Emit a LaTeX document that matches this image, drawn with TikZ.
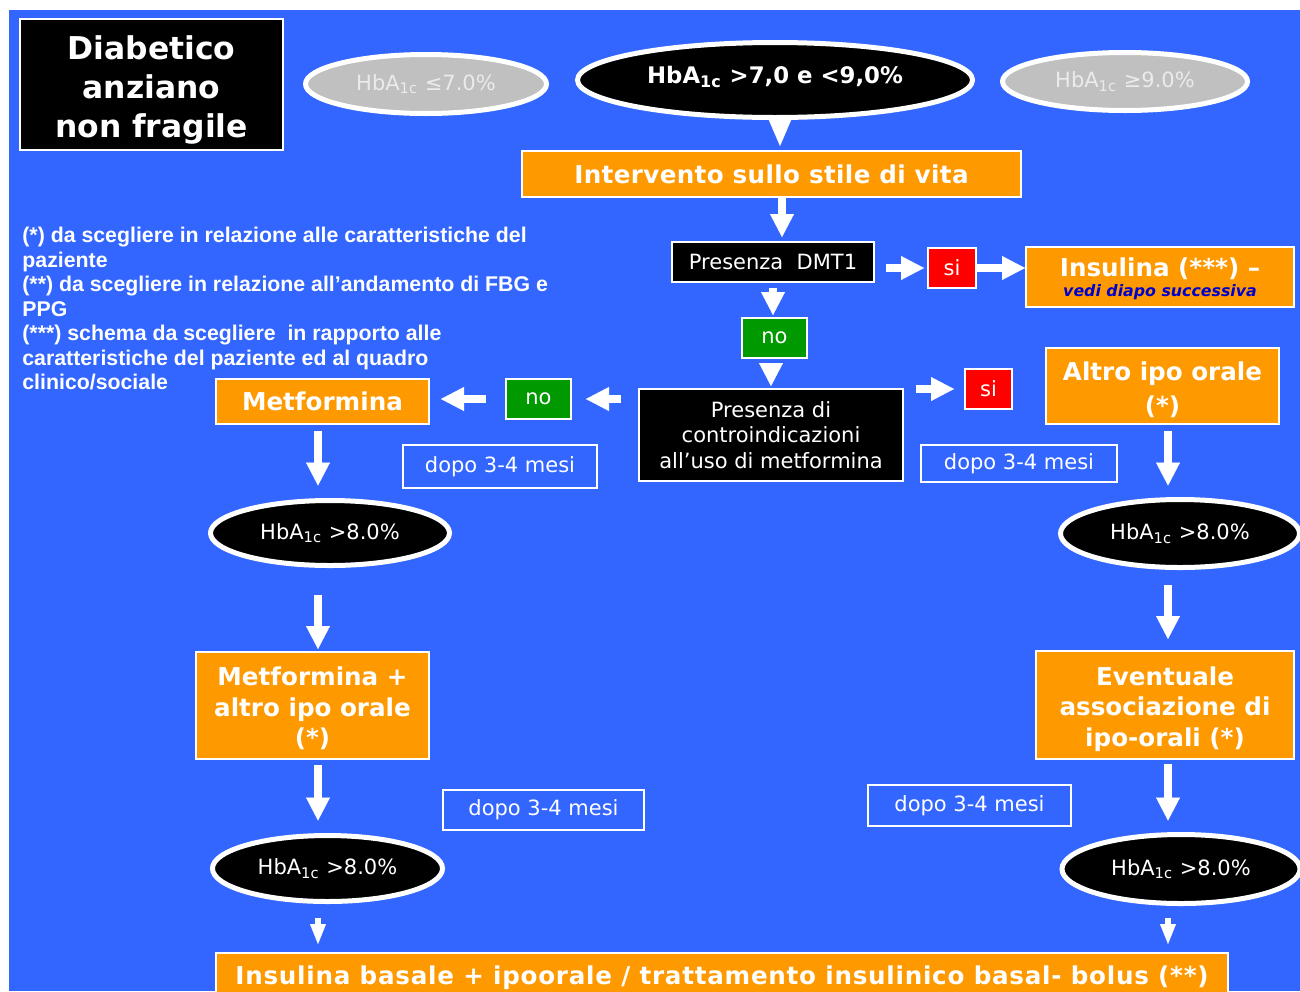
\documentclass[tikz,border=0pt]{standalone}
\usepackage{fontspec}
\setmainfont{DejaVu Sans}
\newfontfamily\notefont{Liberation Sans}
\usetikzlibrary{arrows.meta,shapes.geometric,positioning}
\definecolor{bgblue}{HTML}{3366FF}
\definecolor{boxorange}{HTML}{FF9900}
\definecolor{nogreen}{HTML}{009900}
\definecolor{sired}{HTML}{FF0000}
\definecolor{ellgray}{HTML}{C0C0C0}
\definecolor{txtgray}{HTML}{EBEBEB}
\definecolor{linkblue}{HTML}{0000CC}

\begin{document}
\begin{tikzpicture}[x=0.5pt,y=-0.5pt,
  every node/.style={text=white, inner sep=0pt, align=center},
  box/.style={rectangle, draw=white, line width=1pt},
  actbox/.style={box, fill=boxorange, font=\bfseries\fontsize{12.3pt}{15.25pt}\selectfont},
  askbox/.style={box, fill=black, font=\fontsize{10.5pt}{12.75pt}\selectfont},
  sibox/.style={box, fill=sired, minimum width=24pt, minimum height=20pt, font=\fontsize{10.5pt}{12pt}\selectfont},
  nobox/.style={box, fill=nogreen, minimum width=32.5pt, minimum height=20pt, font=\fontsize{10.5pt}{12pt}\selectfont},
  waitbox/.style={box, fill=bgblue, font=\fontsize{10.5pt}{12pt}\selectfont},
  hbell/.style={ellipse, fill=black, draw=white, line width=2.5pt, font=\fontsize{10.5pt}{12pt}\selectfont},
  grayell/.style={ellipse, fill=ellgray, draw=white, line width=2.5pt, text=txtgray, font=\fontsize{10.5pt}{12pt}\selectfont},
  blk/.style={white, line width=4pt, -{Triangle[length=11.5pt,width=12pt,line width=0.1pt]}},
  thin/.style={white, line width=3pt, -{Triangle[length=10pt,width=8pt,line width=0.1pt]}},
  ptr/.style={white, line width=1pt, -{Triangle[length=14pt,width=12pt,line width=0.1pt]}}]

\useasboundingbox (0,0) rectangle (1300,991);
\fill[white] (0,0) rectangle (1300,991);
\fill[bgblue] (9,10) rectangle (1300,991);

% top row
\node[box, fill=black, minimum width=131.5pt, minimum height=65.5pt,
  font=\bfseries\fontsize{15.7pt}{19.5pt}\selectfont] (who) at (151.5,84.5) {\rule{0pt}{17pt}Diabetico\\anziano\\non fragile};
\node[grayell, minimum width=120.5pt, minimum height=29.5pt] (hblow) at (426,84) {HbA\textsubscript{1c} ≤7.0\%};
\node[hbell, minimum width=197.5pt, minimum height=37.5pt, text height=3.3pt, text depth=0pt,
  font=\bfseries\fontsize{11.4pt}{13pt}\selectfont] (hbmid) at (775,80) {HbA\textsubscript{1c} >7,0 e <9,0\%};
\node[grayell, minimum width=122.5pt, minimum height=29pt] (hbhigh) at (1125,81.5) {HbA\textsubscript{1c} ≥9.0\%};

% notes
\node[anchor=north west, align=left, font=\notefont\bfseries\fontsize{10.65pt}{12.25pt}\selectfont] (notes) at (22,227)
  {(*) da scegliere in relazione alle caratteristiche del\\paziente\\(**) da scegliere in relazione all’andamento di FBG e\\PPG\\(***) schema da scegliere\ \ in rapporto alle\\caratteristiche del paziente ed al quadro\\clinico/sociale};

% central column
\node[actbox, minimum width=249.5pt, minimum height=23pt] (vita) at (771.5,174) {\addfontfeature{LetterSpace=1.5}Intervento sullo stile di vita};
\node[askbox, minimum width=101pt, minimum height=20pt] (dmt) at (773,262) {Presenza\ \ DMT1};
\node[sibox] (si1) at (952,268) {si};
\node[actbox, minimum width=134pt, minimum height=30pt] (insul) at (1160,277)
  {\rule{0pt}{11pt}Insulina (***) –\\[-5.5pt]{\itshape\fontsize{7.9pt}{9pt}\selectfont\color{linkblue}vedi diapo successiva}};
\node[nobox] (no1) at (774.5,338) {no};
\node[askbox, minimum width=132pt, minimum height=46pt] (contra) at (771,435) {Presenza di\\controindicazioni\\all’uso di metformina};
\node[nobox] (no2) at (538.5,399) {no};
\node[actbox, minimum width=106.5pt, minimum height=22.5pt] (metf) at (322.5,401.5) {Metformina};
\node[sibox, minimum width=23.5pt] (si2) at (988.5,389) {si};
\node[actbox, minimum width=116.5pt, minimum height=38pt] (altro) at (1162.5,386) {\rule{0pt}{13pt}Altro ipo orale\\[1.5pt](*)};

% waiting times
\node[waitbox, minimum width=97pt, minimum height=21.5pt] (wait1) at (500,466.5) {dopo 3-4 mesi};
\node[waitbox, minimum width=98pt, minimum height=18.5pt] (wait2) at (1019,463.5) {dopo 3-4 mesi};
\node[waitbox, minimum width=100.5pt, minimum height=20pt] (wait3) at (543.5,810) {dopo 3-4 mesi};
\node[waitbox, minimum width=101.5pt, minimum height=20.5pt] (wait4) at (969.5,805.5) {dopo 3-4 mesi};

% left column
\node[hbell, minimum width=119.5pt, minimum height=32.5pt] (hbl1) at (330,533) {HbA\textsubscript{1c} >8.0\%};
\node[actbox, minimum width=116.5pt, minimum height=53.5pt] (metplus) at (312.5,705.5) {\rule{0pt}{12.4pt}Metformina +\\altro ipo orale\\(*)};
\node[hbell, minimum width=115pt, minimum height=33pt] (hbl2) at (327.5,868.5) {HbA\textsubscript{1c} >8.0\%};

% right column
\node[hbell, minimum width=119.5pt, minimum height=34pt] (hbr1) at (1180,533.5) {HbA\textsubscript{1c} >8.0\%};
\node[actbox, minimum width=129pt, minimum height=54pt] (event) at (1165,705) {\rule{0pt}{13.3pt}Eventuale\\associazione di\\ipo-orali (*)};
\node[hbell, minimum width=119pt, minimum height=34.5pt] (hbr2) at (1181,869) {HbA\textsubscript{1c} >8.0\%};

\node[actbox, minimum width=506pt, minimum height=25pt] (final) at (722,978)
  {\addfontfeature{LetterSpace=3}Insulina basale + ipoorale / trattamento insulinico basal- bolus (**)};

% arrows
\draw[ptr, shorten >=2pt] ([xshift=2.5pt]hbmid.south) -- ([xshift=2.5pt]hbmid.south |- vita.north);
\draw[blk, shorten >=2pt] ([xshift=5.25pt]vita.south) -- ([xshift=5.25pt]vita.south |- dmt.north);
\draw[blk, shorten <=5.5pt, shorten >=1.5pt] (dmt.east |- si1.west) -- (si1.west);
\draw[blk] (si1.east) -- (si1.east -| insul.west);
\draw[blk, shorten <=2.5pt, shorten >=1pt] (dmt.south) -- (dmt.south |- no1.north);
\draw[blk, shorten <=2pt, shorten >=1pt] (contra.north |- no1.south) -- (contra.north);
\draw[blk, shorten <=8.5pt, shorten >=7pt] (contra.west |- no2.east) -- (no2.east);
\draw[blk, shorten <=9.5pt, shorten >=5.5pt] (no2.west) -- (no2.west -| metf.east);
\draw[blk, shorten <=6pt, shorten >=5pt] (contra.east |- si2.west) -- (si2.west);

\draw[blk, shorten <=3pt, shorten >=6.25pt] ([xshift=-2.25pt]metf.south) -- ([xshift=-2.25pt]metf.south |- hbl1.north);
\draw[blk, shorten <=13.25pt, shorten >=1pt] ([xshift=2.75pt]metplus.north |- hbl1.south) -- ([xshift=2.75pt]metplus.north);
\draw[blk, shorten <=2.5pt, shorten >=6.25pt] ([xshift=2.75pt]metplus.south) -- ([xshift=2.75pt]metplus.south |- hbl2.north);
\draw[thin, shorten <=6.75pt, shorten >=4pt] ([xshift=-4.75pt]hbl2.south) -- ([xshift=-4.75pt]hbl2.south |- final.north);

\draw[blk, shorten <=3pt, shorten >=5.75pt] ([xshift=2.75pt]altro.south) -- ([xshift=2.75pt]altro.south |- hbr1.north);
\draw[blk, shorten <=7.25pt, shorten >=5.5pt] ([xshift=1.5pt]event.north |- hbr1.south) -- ([xshift=1.5pt]event.north);
\draw[blk, shorten <=2pt, shorten >=5.75pt] ([xshift=1.5pt]event.south) -- ([xshift=1.5pt]event.south |- hbr2.north);
\draw[thin, shorten <=5.75pt, shorten >=4pt] ([xshift=-6.5pt]hbr2.south) -- ([xshift=-6.5pt]hbr2.south |- final.north);
\end{tikzpicture}
\end{document}
